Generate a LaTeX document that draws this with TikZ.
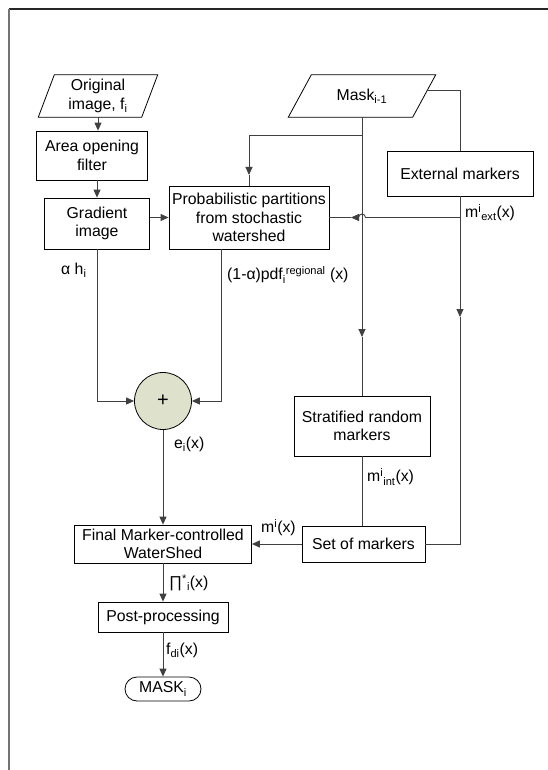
\documentclass[tikz,border=0pt]{standalone}
\usepackage{fontspec}
\setmainfont{Liberation Sans}
\usetikzlibrary{arrows.meta}

\begin{document}
\begin{tikzpicture}[x=1pt,y=-1pt,
    every node/.style={align=center,inner sep=0pt,font=\fontsize{15.8}{18.6}\selectfont},
    box/.style={draw,line width=0.8pt},
    io/.style={minimum height=42pt},
    term/.style={draw,line width=0.8pt,rounded corners=12pt},
    sum/.style={draw,line width=0.8pt,circle,fill=sumfill},
    lbl/.style={anchor=west},
    line/.style={draw=black!75,line width=0.9pt},
    arr/.style={line,-{Triangle[length=8pt,width=7pt]}}
  ]
  \definecolor{sumfill}{RGB}{222,226,205}
  \useasboundingbox (0,0) rectangle (548,770);
  \draw[black!85,line width=1.3pt] (548,9) -- (8.5,9);
  \draw[black!55,line width=2pt] (8.5,9) -- (8.5,770);

  \node[io,minimum width=103pt] (orig) at (98,96) {Original\\image, f\textsubscript{i}};
  \node[box,minimum width=111pt,minimum height=49pt] (area) at (92,155.5) {Area opening\\filter};
  \node[box,minimum width=105pt,minimum height=51pt] (grad) at (97,223.5) {Gradient\\image};
  \node[box,minimum width=160pt,minimum height=63pt] (prob) at (249,217.5) {Probabilistic partitions\\from stochastic\\watershed};
  \node[io,minimum width=124pt] (mask) at (362,96) {Mask\textsubscript{i-1}};
  \node[box,minimum width=146pt,minimum height=45pt] (ext) at (460,173.5) {External markers};
  \node[box,minimum width=136pt,minimum height=60pt] (strat) at (362,426) {Stratified random\\markers};
  \node[box,minimum width=123pt,minimum height=36pt] (set) at (363.5,544) {Set of markers};
  \node[sum,minimum size=57pt,font=\fontsize{20}{20}\selectfont] (sum) at (163,401) {+};
  \node[box,minimum width=177pt,minimum height=38pt] (fin) at (163,544) {Final Marker-controlled\\WaterShed};
  \node[box,minimum width=130pt,minimum height=30pt] (post) at (163,617) {Post-processing};
  \node[term,minimum width=76pt,minimum height=24pt] (out) at (163,689) {MASK\textsubscript{i}};

  % slanted input boxes
  \foreach \n/\s in {orig/8,mask/11.5}
    \draw[line width=0.8pt] ([xshift=-\s pt]\n.south west) -- ([xshift=\s pt]\n.north west)
      -- ([xshift=\s pt]\n.north east) -- ([xshift=-\s pt]\n.south east) -- cycle;

  \coordinate (mbr) at (362,135);
  \coordinate (ptop) at (249,175);
  \coordinate (mid1) at (362,337);
  \coordinate (ebr) at (460,217.5);
  \coordinate (pend) at (351,217.5);
  \coordinate (mid2) at (460,317);

  \draw[arr] (orig.south) -- (orig.south |- area.north);
  \draw[arr] (grad.north |- area.south) -- (grad.north);
  \draw[arr] (prob.west -| grad.east) -- (prob.west);
  \draw[line] (mask.south) -- (mbr);
  \draw[arr] (mbr) -| (ptop);
  \draw[line] (ptop) -- (prob.north);
  \draw[arr] (mbr) -- (mid1);
  \draw[line] (mid1) -- (strat.north);
  \draw[line] ([xshift=2.5pt]mask.5) -| (ext.north);
  \draw[line] (ext.south) -- (ebr);
  \draw[arr] (ebr) -- (365.5,217.5) arc (0:-180:3.5) -- (pend);
  \draw[line] (pend) -- (prob.east);
  \draw[arr] (ebr) -- (mid2);
  \draw[line] (mid2) |- (set.east);
  \draw[line] (strat.south) -- (strat.south |- set.north);
  \draw[arr] (set.west) -- (fin.east);
  \draw[arr] (grad.south) |- (sum.west);
  \draw[arr] ([xshift=-28pt]prob.south) |- (sum.east);
  \draw[arr] (sum.south) -- (fin.north);
  \draw[arr] (fin.south) -- (post.north);
  \draw[arr] (post.south) -- (out.north);

  \node[lbl] (lah) at (61,270) {α h\textsubscript{i}};
  \node[lbl] (lpdf) at (227,275) {(1-α)pdf\textsubscript{i}\textsuperscript{regional} (x)};
  \node[lbl] (lext) at (465,213) {m\textsuperscript{i}\textsubscript{ext}(x)};
  \node[lbl] (lint) at (367,477) {m\textsuperscript{i}\textsubscript{int}(x)};
  \node[lbl] (lm) at (261,528) {m\textsuperscript{i}(x)};
  \node[lbl] (le) at (174,444) {e\textsubscript{i}(x)};
  \node[lbl] (lpi) at (169,583) {∏\textsuperscript{*}\textsubscript{i}(x)};
  \node[lbl] (lf) at (166,650) {f\textsubscript{di}(x)};
\end{tikzpicture}
\end{document}
